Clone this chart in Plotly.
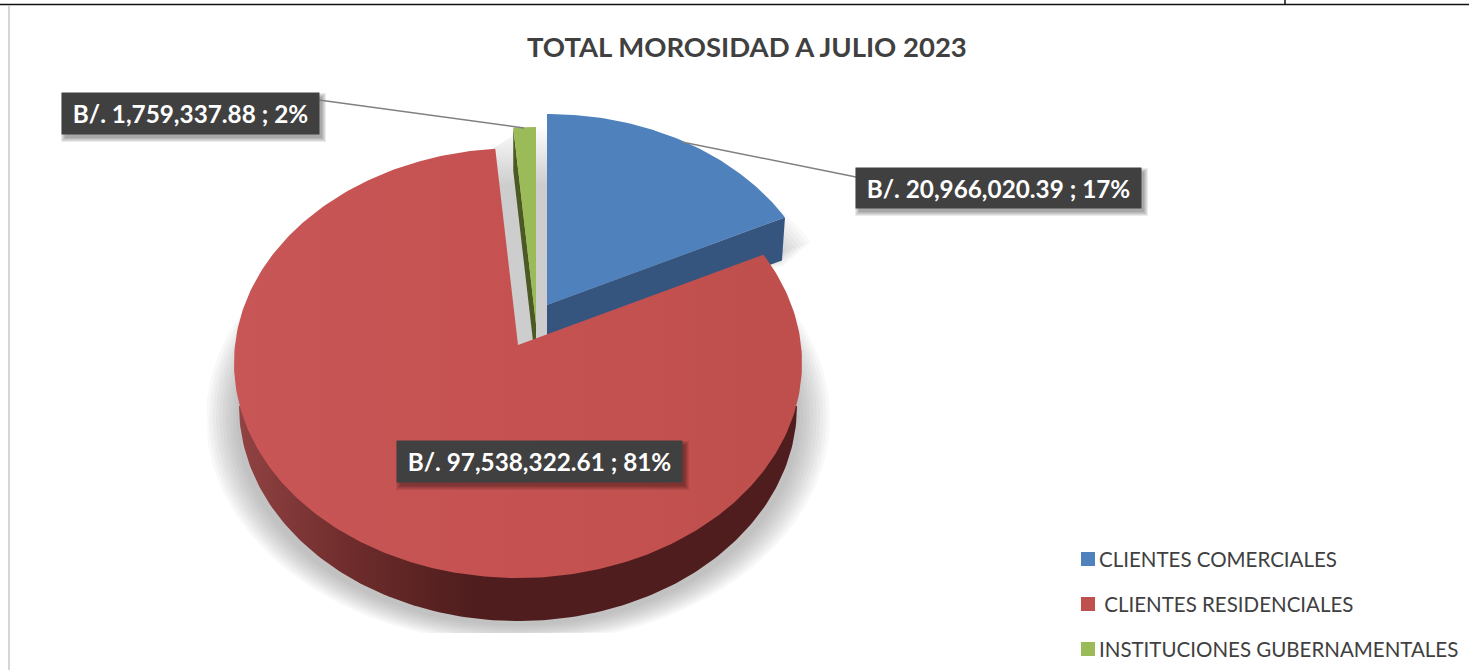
import numpy as np
import plotly.graph_objects as go

# ---- data ----
categories = ["CLIENTES COMERCIALES", "CLIENTES RESIDENCIALES", "INSTITUCIONES GUBERNAMENTALES"]
legend_names = ["CLIENTES COMERCIALES", "\u00a0CLIENTES RESIDENCIALES", "INSTITUCIONES GUBERNAMENTALES"]
values = [20966020.39, 97538322.61, 1759337.88]
percent_labels = [17, 81, 2]
title_text = "TOTAL MOROSIDAD A JULIO 2023"

# ---- styling and projection of the tilted pie ----
TOP = ["#4f81bd", "#c0504d", "#9bbb59"]
SIDE = ["#35557f", "#4f1d1d", "#4a5a22"]
RX, RY, YC_OFF = 284.0, 215.0, 18.0          # ellipse radii, ellipse centre below apex
DEPTH = 43.0
APEX = [(547, 305), (518, 345), (536, 324)]
SCALE = [0.97, 1.0, 1.0]
FONT = "Lato"

fractions = np.array(values) / sum(values)
edges = np.concatenate([[0], np.cumsum(fractions)]) * 2 * np.pi


def warp(t):
    return t - np.radians(3.7) * np.sin(2 * t)


def rim(i, t, dy=0.0):
    ax, ay = APEX[i]
    s = SCALE[i]
    w = warp(np.asarray(t, dtype=float))
    return ax + s * RX * np.sin(w), ay + s * (YC_OFF - RY * np.cos(w)) + dy


def poly(x, y, color=None, gradient=None, name=None):
    kw = dict(fillgradient=gradient) if gradient else dict(fillcolor=color)
    return go.Scatter(x=list(x), y=list(y), mode="lines", fill="toself", line=dict(width=0),
                      hoverinfo="skip", showlegend=False, name=name, **kw)


fig = go.Figure()

# soft shadow under the pie
n = 10
for k in range(n):
    f = k / (n - 1)
    t = np.linspace(0, 2 * np.pi, 240)
    sx = 518 + (312 - 30 * f) * np.sin(t)
    sy = 418 + (226 - 18 * f) * np.cos(t)
    fig.add_trace(poly(np.clip(sx, 207, 832), np.minimum(sy, 633), "rgba(90,90,90,0.042)"))

# shadow beside the pulled blue slice
for k in range(10):
    f = k / 9
    t = np.linspace(edges[0], edges[1], 40)
    bx, by = rim(0, t, 34 + 14 * f)
    ax, ay = APEX[0]
    sc = 1.11 - 0.11 * f
    fig.add_trace(poly(np.r_[ax, ax + (bx - ax) * sc], np.r_[ay + 30, ay + 30 + (by - ay - 30) * sc],
                       "rgba(90,90,90,0.04)"))

# grey gap between the slices
gx0, gy0 = rim(1, edges[2])
fig.add_trace(poly([gx0 - 3, 548, 548, 518], [gy0, 114, 342, 345],
                   gradient=dict(type="vertical", start=125, stop=185,
                                 colorscale=[[0, "#ffffff"], [1, "#cdcdcd"]])))

# blue slice: radial side then top
t = np.linspace(edges[0], edges[1], 80)
bx, by = rim(0, t)
ax, ay = APEX[0]
fig.add_trace(poly([ax, bx[-1], bx[-1] - 3, ax], [ay, by[-1], by[-1] + DEPTH, ay + DEPTH], SIDE[0]))
fig.add_trace(poly(np.r_[ax, bx], np.r_[ay, by], TOP[0], name=categories[0]))

# green slice: radial side then top
t = np.linspace(edges[2], edges[3], 20)
gx, gy = rim(2, t)
ax, ay = APEX[2]
fig.add_trace(poly([gx[0], ax, ax, gx[0]], [gy[0], ay, ay + DEPTH, gy[0] + DEPTH], SIDE[2]))
fig.add_trace(poly(np.r_[ax, gx], np.r_[ay, gy], TOP[2], name=categories[2]))

# red slice: rim wall then top
t = np.linspace(np.pi / 2, 3 * np.pi / 2, 160)
wx = APEX[1][0] + (RX - 5) * np.sin(t)
wy = APEX[1][1] + YC_OFF + RY * -np.cos(t) + DEPTH
fig.add_trace(poly(wx, wy, gradient=dict(type="horizontal", start=236, stop=800, colorscale=[
    [0, "#924343"], [0.2, "#6f2c2c"], [0.42, "#4f1d1d"], [1, "#4f1d1d"]])))
t = np.linspace(edges[1], edges[2], 300)
rx_, ry_ = rim(1, t)
ax, ay = APEX[1]
fig.add_trace(poly(np.r_[ax, rx_], np.r_[ay, ry_], name=categories[1], gradient=dict(
    type="horizontal", start=234, stop=802,
    colorscale=[[0, "#c85656"], [0.5, "#c55251"], [1, "#be4f4c"]])))

# data labels
boxes = [(857, 169, 1140, 207), (398, 442, 681, 481), (63, 94, 318, 133)]
shapes = []
annotations = []
leaders = [(682, 142, 856, 177), None, (319, 100, 524, 128)]
for i, (x0, y0, x1, y1) in enumerate(boxes):
    for k in range(5):
        g = 5 - k
        shapes.append(dict(type="rect", xref="x", yref="y", x0=x0 + 3 - g, x1=x1 + 3 + g, y0=y0 + 4 - g, y1=y1 + 4 + g,
                           fillcolor="rgba(0,0,0,0.08)", line=dict(width=0), layer="above"))
    if leaders[i]:
        a, b, c, d = leaders[i]
        shapes.append(dict(type="line", xref="x", yref="y", x0=a, y0=b, x1=c, y1=d,
                           line=dict(color="#808080", width=1.5), layer="above"))
    annotations.append(dict(x=(x0 + x1) / 2, y=(y0 + y1) / 2, xref="x", yref="y", showarrow=False,
                            text=f"<b>B/. {values[i]:,.2f} ; {percent_labels[i]}%</b>",
                            width=x1 - x0, height=y1 - y0, bgcolor="#404040", align="center", valign="middle",
                            font=dict(family=FONT, size=24.3, color="#ffffff")))

annotations.append(dict(x=747, y=46, xref="x", yref="y", showarrow=False, text=f"<b>{title_text}</b>",
                        font=dict(family=FONT, size=27.5, color="#404040")))

# legend keys and texts
for name, col, yc in zip(legend_names, TOP, [559, 604, 649]):
    shapes.append(dict(type="rect", xref="x", yref="y", x0=1081, x1=1095, y0=yc - 7, y1=yc + 7,
                       fillcolor=col, line=dict(width=0), layer="above"))
    annotations.append(dict(x=1097, y=yc, xref="x", yref="y", xanchor="left", showarrow=False, text=name,
                            font=dict(family=FONT, size=20.5, color="#404040")))

# page frame
shapes += [
    dict(type="line", xref="x", yref="y", x0=0, x1=1469, y0=4.5, y1=4.5, line=dict(color="#111111", width=1.5), layer="below"),
    dict(type="line", xref="x", yref="y", x0=1285, x1=1285, y0=0, y1=4, line=dict(color="#111111", width=1.5), layer="below"),
    dict(type="line", xref="x", yref="y", x0=9, x1=9, y0=6, y1=670, line=dict(color="#c8c8c8", width=1.5), layer="below"),
]

fig.update_layout(
    width=1469, height=670, margin=dict(l=0, r=0, t=0, b=0),
    paper_bgcolor="#ffffff", plot_bgcolor="#ffffff",
    xaxis=dict(range=[0, 1469], visible=False, fixedrange=True),
    yaxis=dict(range=[670, 0], visible=False, fixedrange=True),
    shapes=shapes, annotations=annotations,
    showlegend=False,
)

fig.write_html("out.html", config=dict(displayModeBar=False),
               post_script="document.body.style.margin='0';document.body.style.overflow='hidden';")
